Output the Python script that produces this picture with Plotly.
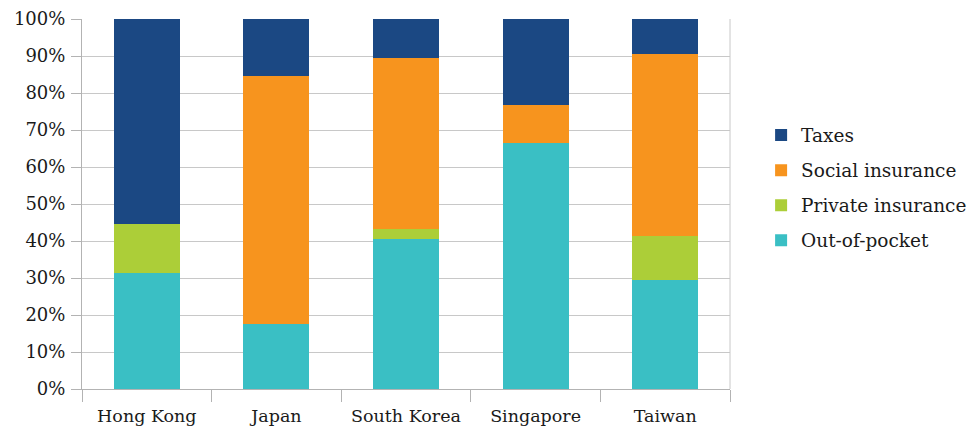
import plotly.graph_objects as go

countries = ["Hong Kong", "Japan", "South Korea", "Singapore", "Taiwan"]
out_of_pocket = [31.4, 17.6, 40.5, 66.5, 29.5]
private_ins = [13.2, 0.0, 2.7, 0.0, 11.9]
social_ins = [0.0, 67.0, 46.3, 10.3, 49.2]
taxes = [55.4, 15.4, 10.5, 23.2, 9.4]

series = [
    ("Out-of-pocket", out_of_pocket, "#3abfc4"),
    ("Private insurance", private_ins, "#acce38"),
    ("Social insurance", social_ins, "#f7941e"),
    ("Taxes", taxes, "#1b4883"),
]

font = "DejaVu Serif"

fig = go.Figure()
for i, (name, vals, col) in enumerate(series):
    fig.add_trace(go.Bar(
        x=countries, y=[v / 100 for v in vals], name=name,
        marker=dict(color=col, line=dict(width=0)),
        legendgroup=str(i), legendrank=10 - i,
    ))

fig.update_layout(
    template="none",
    barmode="stack",
    bargap=0.49,
    width=969, height=432,
    margin=dict(l=82, r=239, t=19, b=43, autoexpand=False),
    paper_bgcolor="white", plot_bgcolor="white",
    font=dict(family=font, size=18, color="#1a1a1a"),
    legend=dict(
        x=1.048, y=0.543, xanchor="left", yanchor="middle",
        traceorder="grouped", tracegroupgap=8,
        font=dict(family=font, size=18.5, color="#1a1a1a"),
    ),
    xaxis=dict(
        showline=True, linecolor="#b3b3b3", linewidth=1,
        ticks="outside", tickson="boundaries", ticklen=12, tickcolor="#b3b3b3",
        showgrid=False, tickfont=dict(family=font, size=17.5), tickangle=0,
        ticklabelstandoff=11, automargin=False,
    ),
    yaxis=dict(
        range=[0, 1], tickformat=".0%", dtick=0.1,
        showline=True, linecolor="#b3b3b3", linewidth=1,
        ticks="outside", ticklen=10, tickcolor="#b3b3b3",
        showgrid=True, gridcolor="#c8c8c8", gridwidth=1,
        tickfont=dict(family=font, size=18), zeroline=False,
        ticklabelstandoff=2, automargin=False,
    ),
    shapes=[dict(type="line", xref="paper", yref="paper", x0=1, x1=1, y0=0, y1=1,
                 line=dict(color="#c8c8c8", width=1))],
)

fig.write_html("out.html")
